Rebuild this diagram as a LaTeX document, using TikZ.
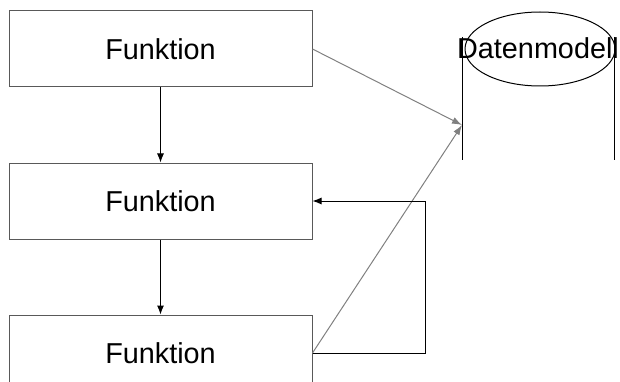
\documentclass[tikz,border=0pt]{standalone}
\usepackage{fontspec}
\setmainfont{Liberation Sans}
\usepackage{tikz}
\usetikzlibrary{positioning,shapes.geometric,arrows.meta}

\begin{document}
\begin{tikzpicture}[
func/.style={
	rectangle, draw=black!65, line width=1pt,
	minimum width=303pt, minimum height=76pt,
	inner sep=0pt, font=\fontsize{28.8}{34}\selectfont
},
store/.style={
	ellipse, draw, line width=1pt,
	minimum width=150pt, minimum height=74pt, inner sep=0pt
},
flow/.style={line width=1pt, -{Latex[length=9pt,width=7pt]}},
data/.style={gray, line width=1pt, -{Latex[length=10pt,width=7pt]}},
x=1pt, y=1pt
]
\useasboundingbox (0,0) rectangle (620,-382);
\node[func] (f1) at (160.5,-49) {Funktion};
\node[func,below=75pt of f1] (f2) {Funktion};
\node[func,below=75pt of f2] (f3) {Funktion};
\node[store] (dm) at (540,-49) {};
\node[font=\fontsize{28.8}{34}\selectfont] (dmtext) at (538,-48) {Datenmodell};
\coordinate (dmtl) at (462.5,-37);
\coordinate (dmbl) at (462.5,-160);
\coordinate (dmtr) at (614.5,-37);
\coordinate (dmbr) at (614.5,-160);
\coordinate (dmin) at (462,-125);
\coordinate (loop) at (425.5,0);
\draw[line width=1pt] (dmtl) -- (dmbl);
\draw[line width=1pt] (dmtr) -- (dmbr);
\foreach \i/\j in {1/2,2/3}
{
	\draw[flow] (f\i.south) -- (f\j.north);
}
\draw[data] (f1.east) -- (dmin);
\draw[data] (f3.east) -- (dmin);
\draw[flow] (f3.east) -| (loop |- f2.east) -- (f2.east);
\end{tikzpicture}
\end{document}
